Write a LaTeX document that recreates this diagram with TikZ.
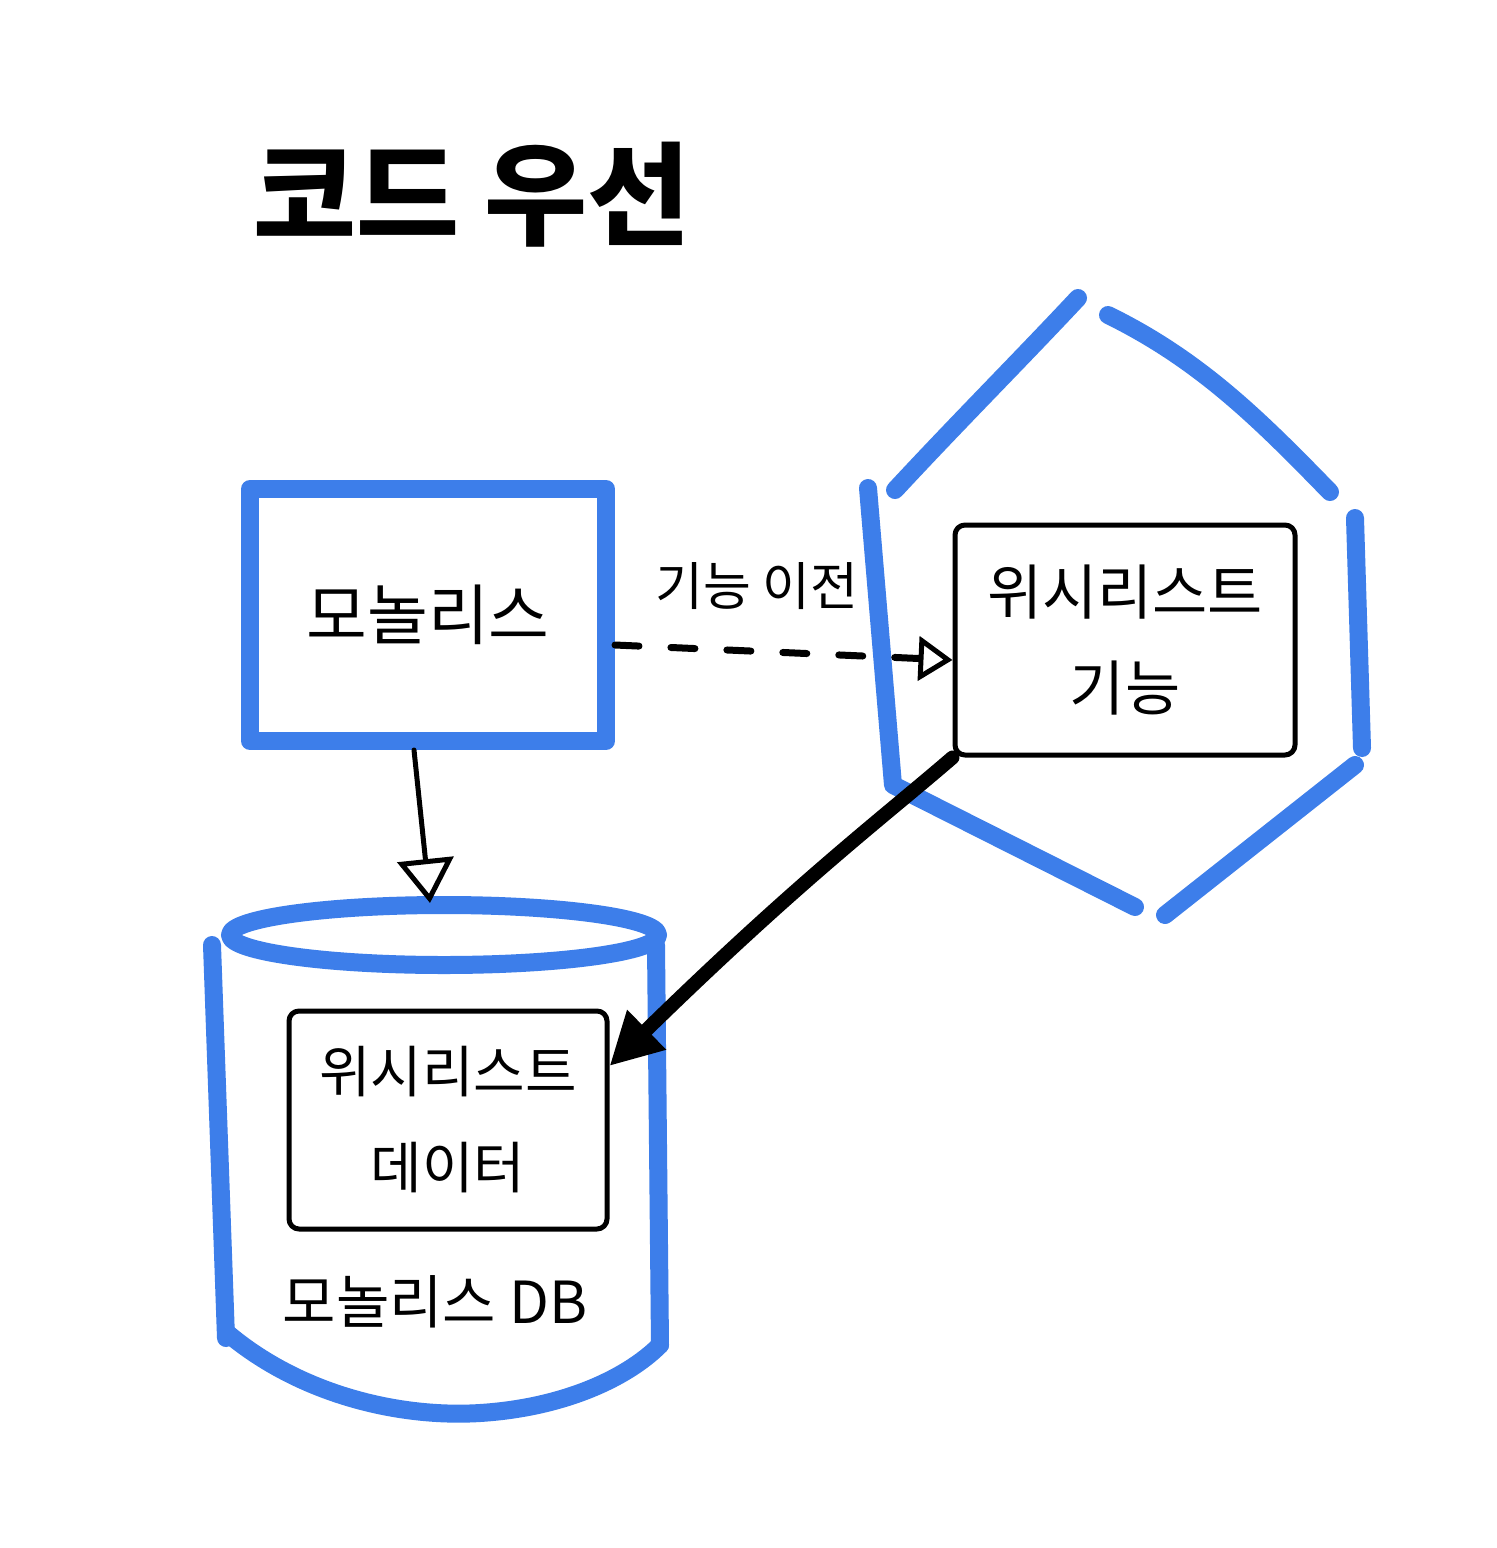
\documentclass[tikz,border=0pt]{standalone}
\usepackage{fontspec}
\setmainfont{Noto Sans CJK KR}
\usetikzlibrary{arrows.meta}
\definecolor{hb}{HTML}{3D7EEA}
\begin{document}
\begin{tikzpicture}[x=0.5pt,y=-0.5pt, line cap=round, line join=round,
  blueline/.style={draw=hb, line width=9pt},
  bluebox/.style={draw=hb, line width=9pt, inner sep=0pt},
  inbox/.style={draw=black, line width=2.5pt, rounded corners=5pt, align=center, inner sep=0pt},
  bigtxt/.style={font=\fontsize{30}{48}\selectfont},
  midtxt/.style={font=\fontsize{28}{48}\selectfont}]
\useasboundingbox (0,0) rectangle (1496,1548);
\fill[white] (0,0) rectangle (1496,1548);

% title
\node[font=\fontsize{56}{60}\selectfont\bfseries] (title) at (472,195) {코드 우선};

% monolith box
\node[bluebox, minimum width=178pt, minimum height=126pt, font=\fontsize{33}{40}\selectfont] (mono) at (428,615) {모놀리스};

% hexagon (hand drawn, with small gaps)
\coordinate (hx1) at (1078,298);
\coordinate (hx2) at (1108,315);
\coordinate (hx3) at (1330,492);
\coordinate (hx4) at (1355,518);
\coordinate (hx5) at (1362,748);
\coordinate (hx6) at (1355,765);
\coordinate (hx7) at (1165,915);
\coordinate (hx8) at (1135,907);
\coordinate (hx9) at (893,785);
\coordinate (hx10) at (868,488);
\coordinate (hx11) at (895,490);
\draw[blueline] (hx11) .. controls (960,420) and (1020,360) .. (hx1);
\draw[blueline] (hx2) .. controls (1200,360) and (1260,420) .. (hx3);
\draw[blueline] (hx4) -- (hx5);
\draw[blueline] (hx6) -- (hx7);
\draw[blueline] (hx8) -- (hx9) -- (hx10);

% wishlist feature box
\node[inbox, bigtxt, minimum width=170pt, minimum height=115pt] (wf) at (1125,640) {위시리스트\\기능};

% migration arrow
\draw[black, line width=3.5pt, dash pattern=on 12pt off 16pt,
  -{Triangle[open, length=17pt, width=22pt, line width=2.5pt]}]
  ([yshift=-15pt]mono.east) -- ([yshift=-10pt]wf.west)
  node[pos=0.42, above=16pt, font=\fontsize{26}{30}\selectfont, solid] (mig) {기능 이전};

% database cylinder
\coordinate (dbtop) at (430,903);
\draw[blueline] (444,935) ellipse [x radius=214, y radius=30];
\draw[blueline] (212,945) -- (226,1338);
\draw[blueline] (656,945) -- (660,1345);
\draw[blueline] (226,1332) .. controls (300,1395) and (400,1418) .. (480,1413)
  .. controls (560,1408) and (625,1380) .. (660,1345);

% wishlist data box
\node[inbox, midtxt, minimum width=159pt, minimum height=109pt] (wd) at (448,1120) {위시리스트\\데이터};
\node[font=\fontsize{29}{34}\selectfont] (dblabel) at (435,1302) {모놀리스 DB};

% monolith -> db
\draw[black, line width=2.5pt, -{Triangle[open, length=22pt, width=28pt, line width=2.5pt]}]
  ([xshift=-7pt]mono.south) -- (dbtop);

% feature -> data
\draw[black, line width=7pt, -{Triangle[length=26pt, width=26pt]}]
  (wf.south west) .. controls (880,820) and (800,880) .. ([yshift=27pt]wd.east);
\end{tikzpicture}
\end{document}
